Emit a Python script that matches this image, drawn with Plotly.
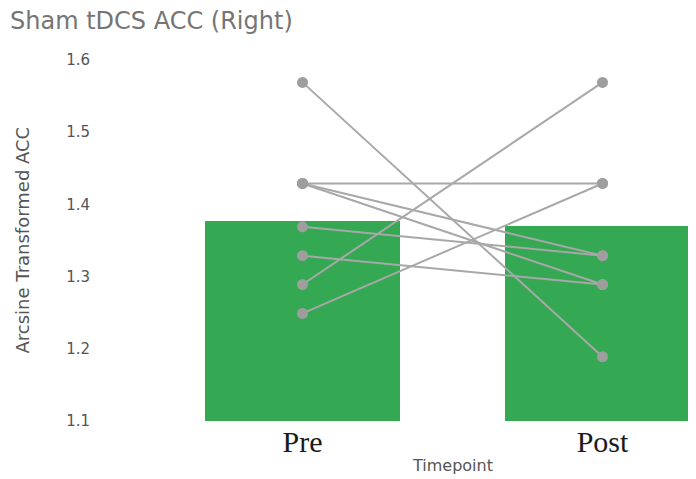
import plotly.graph_objects as go

# ---- data ----
categories = ["Pre", "Post"]
bar_values = [1.3766, 1.370]
pre_values = [1.569, 1.429, 1.429, 1.429, 1.369, 1.329, 1.289, 1.249]
post_values = [1.189, 1.429, 1.329, 1.289, 1.329, 1.289, 1.569, 1.429]
y_ticks = [1.1, 1.2, 1.3, 1.4, 1.5, 1.6]
title_text = "Sham tDCS ACC (Right)"
x_title = "Timepoint"
y_title = "Arcsine Transformed ACC"

OFF = 8  # page body margin
W, H = 696 - OFF, 479 - OFF
L, R = 100 - OFF, 0
T, B = 59.5 - OFF, 58
cat_px = 300.0
pre_px = 302.5 - OFF
x0 = (L - pre_px) / cat_px
x1 = (W - R - pre_px) / cat_px
PH = H - T - B
PW = W - L - R

fig = go.Figure()
fig.add_trace(go.Bar(x=categories, y=bar_values, width=0.65,
                     marker=dict(color="#34a853", line=dict(width=0)),
                     hoverinfo="skip", showlegend=False))
for a, b in zip(pre_values, post_values):
    fig.add_trace(go.Scatter(x=categories, y=[a, b], mode="lines+markers",
                             line=dict(color="#a8a8a8", width=2),
                             marker=dict(color="#9e9e9e", size=11),
                             showlegend=False))

sans = "DejaVu Sans"
fig.update_layout(
    width=W, height=H,
    margin=dict(l=L, r=R, t=T, b=B, pad=0),
    paper_bgcolor="white", plot_bgcolor="white",
    bargap=0,
    title=dict(text=title_text, x=(10 - OFF) / W, xanchor="left", xref="container",
               y=1 - (20.5 - OFF) / H, yanchor="middle", yref="container",
               font=dict(family=sans, size=24, color="#757575")),
    xaxis=dict(range=[x0, x1], showgrid=False, zeroline=False, showline=False,
               ticks="", tickfont=dict(family="Liberation Serif", size=30, color="#1a1a1a"),
               ticklabelstandoff=0),
    yaxis=dict(range=[1.1, 1.6], tickvals=y_ticks, ticktext=[f"{v:.1f}" for v in y_ticks],
               showgrid=False, zeroline=False, showline=False, ticks="",
               tickfont=dict(family=sans, size=15, color="#555555"),
               ticklabelstandoff=9),
    annotations=[
        dict(text=x_title, xref="x", x=0.5, yref="paper",
             y=-(466 - OFF - (H - B)) / PH,
             xanchor="center", yanchor="middle", showarrow=False,
             font=dict(family=sans, size=16, color="#555555")),
        dict(text=y_title, xref="paper", x=(22 - OFF - L) / PW, yref="paper", y=0.5,
             xanchor="center", yanchor="middle", textangle=-90, showarrow=False,
             font=dict(family=sans, size=18, color="#555555")),
    ],
)
fig.write_html("out.html")
